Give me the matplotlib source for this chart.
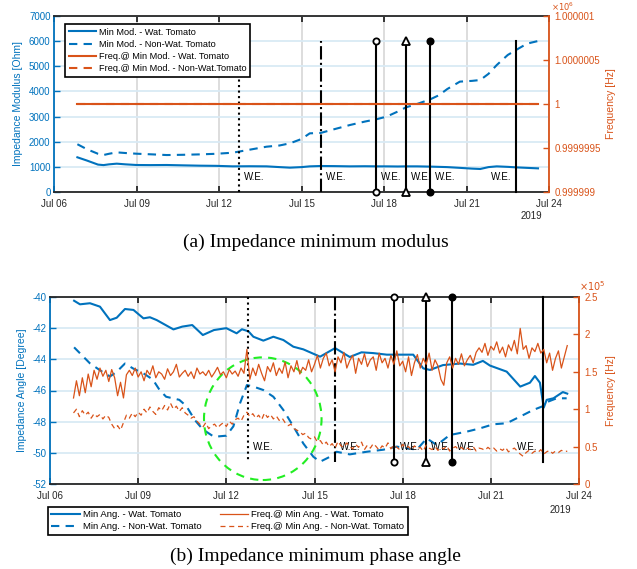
import matplotlib
matplotlib.use('Agg')
import matplotlib.pyplot as plt
import matplotlib.dates as mdates
from matplotlib.patches import Ellipse
from datetime import datetime
import numpy as np

plt.rcParams['font.family'] = ['Liberation Sans', 'DejaVu Sans']
plt.rcParams['axes.unicode_minus'] = False

BLUE = '#0072BD'
ORANGE = '#D95319'
DARK = '#262626'
start = mdates.date2num(datetime(2019, 7, 6))

# ---- (a) minimum modulus, days after Jul 06 ----
mod_days = [0.85, 1.2, 1.6, 1.8, 2.0, 2.28, 2.6, 3.0, 3.5, 4.1, 4.7, 5.3, 5.9,
            6.5, 7.1, 7.73, 8.2, 8.58, 9.0, 9.3, 9.7, 10.2, 10.76, 11.3, 11.75,
            12.1, 12.5, 12.8, 13.2, 13.67, 14.0, 14.3, 14.76, 15.2, 15.5, 15.8,
            16.1, 16.5, 16.8, 17.2, 17.6]
mod_wat = [1380, 1250, 1090, 1070, 1100, 1127, 1100, 1074, 1070, 1074, 1060,
           1047, 1040, 1020, 1025, 1020, 990, 968, 990, 1020, 1034, 1030, 1020,
           1025, 1020, 1020, 1015, 1020, 1020, 1010, 1000, 990, 960, 930, 915,
           990, 1020, 1000, 980, 960, 940]
mod_nonwat = [1900, 1700, 1520, 1471, 1520, 1577, 1550, 1523, 1500, 1470, 1480,
              1496, 1520, 1563, 1680, 1802, 1850, 1936, 2108, 2333, 2350, 2500,
              2664, 2800, 2900, 3000, 3200, 3367, 3500, 3680, 3850, 4095, 4390,
              4420, 4454, 4700, 5050, 5450, 5647, 5900, 6005]
fmod_days = [0.85, 17.6]
fmod_wat = [1e6, 1e6]
fmod_nonwat = [1e6, 1e6]

# ---- (b) minimum phase angle ----
ang_wat_days = [0.82, 1.02, 1.36, 1.7, 2.04, 2.27, 2.55, 2.84, 3.18, 3.4, 3.63,
                4.2, 4.5, 4.84, 5.2, 5.58, 6.0, 6.35, 6.53, 6.75, 6.92, 7.26,
                7.6, 7.94, 8.28, 8.62, 9.19, 9.7, 10.2, 10.6, 11.0, 11.46, 11.8,
                12.36, 12.7, 12.93, 13.37, 13.95, 14.4, 14.73, 14.97, 15.54,
                16.0, 16.33, 16.5, 16.67, 16.8, 16.9, 17.13, 17.45, 17.6]
ang_wat = [-40.24, -40.47, -40.4, -40.62, -41.48, -41.33, -40.77, -40.83,
           -41.37, -41.3, -41.48, -42.08, -41.9, -41.8, -42.44, -42.12, -42.0,
           -42.33, -42.07, -42.2, -42.55, -42.8, -42.55, -42.76, -43.19, -43.36,
           -43.83, -43.28, -43.85, -43.55, -43.6, -43.7, -43.7, -43.7, -44.58,
           -44.68, -44.37, -44.27, -44.35, -44.1, -44.4, -44.79, -45.75, -45.5,
           -45.07, -45.5, -47.1, -46.6, -46.5, -46.1, -46.2]
ang_nonwat_days = [0.82, 1.36, 1.7, 2.04, 2.27, 2.55, 2.84, 3.18, 3.5, 3.73,
                   3.95, 4.4, 4.64, 4.93, 5.2, 5.58, 6.0, 6.24, 6.47, 6.7, 6.92,
                   7.26, 7.6, 7.94, 8.28, 8.62, 8.96, 9.19, 9.53, 9.75, 10.2,
                   10.78, 11.34, 11.8, 12.14, 12.48, 12.82, 13.16, 13.6, 14.18,
                   14.63, 15.08, 15.54, 15.99, 16.44, 16.78, 16.9, 17.24, 17.58]
ang_nonwat = [-43.23, -44.26, -44.7, -45.1, -44.8, -44.27, -44.6, -44.9, -45.3,
              -45.97, -46.4, -46.6, -47.0, -47.9, -48.5, -48.97, -48.9, -48.3,
              -46.8, -45.65, -45.75, -45.97, -46.4, -47.25, -48.3, -49.4,
              -50.25, -50.57, -50.25, -49.93, -50.1, -49.93, -49.8, -49.6,
              -49.7, -49.8, -49.07, -49.5, -48.86, -48.64, -48.43, -48.17,
              -48.1, -47.68, -47.25, -47.0, -46.75, -46.5, -46.5]

# frequency at min angle, sampled every 0.1 day from day 0.8 (units of 1e5 Hz)
fang_days = 0.8 + 0.1 * np.arange(169)
fang_wat = [1.15, 1.38, 1.18, 1.42, 1.22, 1.47, 1.30, 1.52,
            1.40, 1.55, 1.44, 1.52, 1.37, 1.53, 1.42,
            1.18, 1.36, 1.15, 1.46, 1.52,
            1.45, 1.55, 1.43, 1.50, 1.38, 1.52, 1.46, 1.58, 1.42, 1.50,
            1.47, 1.40, 1.54, 1.45, 1.50, 1.60, 1.43, 1.48, 1.52, 1.44,
            1.50, 1.41, 1.55, 1.47, 1.50, 1.45, 1.52, 1.43, 1.49, 1.56,
            1.46, 1.50, 1.42, 1.53, 1.47, 1.51, 1.44, 1.55, 1.48,
            1.80,
            1.40, 1.55, 1.45, 1.60, 1.48, 1.38, 1.57, 1.50, 1.62, 1.45,
            1.55, 1.48, 1.63, 1.42, 1.58, 1.50, 1.65, 1.47, 1.56, 1.52, 1.66, 1.50,
            1.60, 1.72, 1.55, 1.68, 1.75, 1.58, 1.66, 1.50, 1.70, 1.62,
            1.76, 1.55, 1.65, 1.72, 1.48, 1.68, 1.60, 1.74, 1.57, 1.66,
            1.70, 1.52, 1.75, 1.62, 1.68, 1.55, 1.72, 1.60, 1.78, 1.58,
            1.64, 1.50, 1.70, 1.45, 1.62, 1.73, 1.55, 1.68, 1.60, 1.75,
            1.52, 1.66, 1.58, 1.40, 1.32, 1.62, 1.70, 1.55, 1.68, 1.60,
            1.74, 1.58, 1.66, 1.72, 1.62, 1.76,
            1.82, 1.76, 1.88, 1.72, 1.84, 1.79, 1.90, 1.75, 1.83, 1.70,
            1.86, 1.78, 1.92, 1.74, 2.08, 1.80, 1.85, 1.68, 1.82, 1.77,
            1.88, 1.75, 1.80,
            1.62, 1.75, 1.52, 1.68, 1.78, 1.55, 1.70, 1.85]
fang_nonwat = [0.95, 1.00, 0.90, 0.98, 0.92, 0.96, 0.88, 0.94,
               0.90, 0.93, 0.87, 0.92, 0.89,
               0.80, 0.74, 0.78, 0.72, 0.82,
               0.92, 0.88, 0.95, 0.90,
               0.96, 0.92, 1.00, 0.95, 1.03, 0.97, 0.93, 1.02, 0.98, 1.05,
               0.99, 1.08, 1.00, 1.04, 0.97, 1.02, 0.95,
               0.92, 0.88, 0.90, 0.84,
               0.80, 0.76, 0.82, 0.74, 0.78, 0.80, 0.75, 0.79, 0.82, 0.77,
               0.84, 0.80, 0.86,
               0.88, 0.84, 0.92, 0.96,
               0.90, 0.94, 0.88, 0.92, 0.86, 0.95, 0.89, 0.93, 0.87, 0.91,
               0.85, 0.88,
               0.82, 0.78, 0.80, 0.74, 0.72, 0.70, 0.66, 0.68, 0.62, 0.60,
               0.63, 0.56, 0.58,
               0.52, 0.56, 0.50, 0.54, 0.48, 0.57, 0.51, 0.49, 0.55, 0.50,
               0.47, 0.53, 0.49, 0.56, 0.46, 0.52, 0.48, 0.54, 0.50, 0.45,
               0.51, 0.48, 0.55, 0.47, 0.52, 0.49, 0.46, 0.53, 0.48, 0.50,
               0.45, 0.51, 0.47, 0.49, 0.44, 0.52, 0.48, 0.46, 0.50, 0.45,
               0.49, 0.47, 0.51, 0.44, 0.48, 0.50, 0.46, 0.49, 0.45, 0.48,
               0.46, 0.50, 0.44, 0.48, 0.47, 0.45, 0.49, 0.46, 0.48, 0.44,
               0.47, 0.45, 0.49, 0.43, 0.46, 0.48, 0.44, 0.40, 0.37, 0.42,
               0.45, 0.41, 0.44, 0.42, 0.46, 0.40, 0.43, 0.45, 0.41, 0.44,
               0.42, 0.45, 0.43, 0.44]

# events (watering etc.) and "W.E." labels
event_days = [6.74, 9.70, 11.72, 12.79, 13.67, 16.79]
event_styles = [(':', None, 'none'), ('-.', None, 'none'), ('-', 'o', 'white'),
                ('-', '^', 'white'), ('-', 'o', 'k'), ('-', None, 'none')]
we_days = [6.92, 9.88, 11.90, 12.97, 13.85, 15.90]

xticks = [0, 3, 6, 9, 12, 15, 18]


def d(v):
    return start + np.asarray(v, dtype=float)


fig = plt.figure(figsize=(6.37, 5.69), dpi=100)


def style(ax, ax2):
    ax.set_xlim(start, start + 18)
    ax.set_xticks(d(xticks))
    ax.xaxis.set_major_formatter(mdates.DateFormatter('%b %d'))
    ax.grid(axis='y', color='#d9eaf5', lw=1.3)
    ax.grid(axis='x', color='#dadada', lw=1.3)
    ax.set_axisbelow(True)
    for s in ['top', 'bottom']:
        ax.spines[s].set_color(DARK)
        ax.spines[s].set_linewidth(1.3)
        ax2.spines[s].set_visible(False)
    ax.spines['right'].set_visible(False)
    ax.spines['left'].set_color(BLUE)
    ax.spines['left'].set_linewidth(1.3)
    ax2.spines['left'].set_visible(False)
    ax2.spines['right'].set_color(ORANGE)
    ax2.spines['right'].set_linewidth(1.3)
    ax.tick_params(axis='x', direction='in', top=True, length=4, width=1.3,
                   color=DARK, labelcolor=DARK, labelsize=7, pad=5)
    ax.tick_params(axis='y', direction='in', length=4, width=1.0, color=BLUE,
                   labelcolor=BLUE, labelsize=7, pad=2.5)
    ax2.tick_params(axis='y', direction='in', length=4, width=1.0, color=ORANGE,
                    labelcolor=ORANGE, labelsize=7, pad=4)


def events(ax, ylo, yhi, ytxt):
    for x, (ls, mk, mfc) in zip(event_days, event_styles):
        ax.plot(d([x, x]), [ylo, yhi], color='k', ls=ls, lw=1.5, marker=mk,
                ms=4.5 if mk == 'o' else 5.5, mfc=mfc, mec='k', mew=1.3,
                clip_on=False, zorder=3)
    for x in we_days:
        ax.text(d(x), ytxt, 'W.E.', fontsize=7, ha='left', va='center', color='k')


# ---------------- (a) ----------------
ax = fig.add_axes([54 / 637, 1 - 192 / 569, 495 / 637, 176 / 569])
ax2 = ax.twinx()
style(ax, ax2)
l1, = ax.plot(d(mod_days), mod_wat, color=BLUE, lw=1.5)
l2, = ax.plot(d(mod_days), mod_nonwat, color=BLUE, lw=1.5, dashes=(4, 3))
events(ax, 0, 6000, 600)
ax.set_ylim(0, 7000)
ax.set_yticks(range(0, 7001, 1000))
ax.set_ylabel('Impedance Modulus [Ohm]', color=BLUE, fontsize=7.5, labelpad=4)
l3, = ax2.plot(d(fmod_days), fmod_wat, color=ORANGE, lw=1.5)
l4, = ax2.plot(d(fmod_days), fmod_nonwat, color=ORANGE, lw=1.5, dashes=(4, 3))
ax2.set_ylim(999999, 1000001)
ax2.set_yticks([999999, 999999.5, 1000000, 1000000.5, 1000001],
               ['0.999999', '0.9999995', '1', '1.0000005', '1.000001'])
ax2.set_ylabel('Frequency [Hz]', color=ORANGE, fontsize=7.5, labelpad=4)
leg = ax2.legend([l1, l2, l3, l4],
                 ['Min Mod. - Wat. Tomato', 'Min Mod. - Non-Wat. Tomato',
                  'Freq.@ Min Mod. - Wat. Tomato', 'Freq.@ Min Mod. - Non-Wat.Tomato'],
                 loc='upper left', bbox_to_anchor=(0.022, 0.955), borderaxespad=0,
                 fontsize=6.6, handlelength=3.0, labelspacing=0.35,
                 handletextpad=0.3, borderpad=0.4, fancybox=False, framealpha=1,
                 edgecolor='k')
leg.get_frame().set_linewidth(1.2)
fig.text(563 / 637, 1 - 7 / 569, r'$\times10^{6}$', color=ORANGE, fontsize=6,
         ha='center', va='center')
fig.text(531.7 / 637, 1 - 215.7 / 569, '2019', color=DARK, fontsize=7,
         ha='center', va='center')
fig.text(316 / 637, 1 - 242 / 569, '(a) Impedance minimum modulus',
         family='Liberation Serif', fontsize=14, ha='center', va='center')

# ---------------- (b) ----------------
bx = fig.add_axes([50 / 637, 1 - 484 / 569, 529 / 637, 187 / 569])
bx2 = bx.twinx()
style(bx, bx2)
m1, = bx.plot(d(ang_wat_days), ang_wat, color=BLUE, lw=1.5)
m2, = bx.plot(d(ang_nonwat_days), ang_nonwat, color=BLUE, lw=1.5, dashes=(4, 3))
events(bx, -40, -50.6, -49.6)
bx.add_patch(Ellipse((start + 7.24, -47.81), 4.0, 7.87, fill=False,
                     edgecolor='#22ee22', lw=1.5, ls=(0, (4, 3)), zorder=4))
bx.set_ylim(-52, -40)
bx.set_yticks(range(-52, -39, 2))
bx.set_ylabel('Impedance Angle [Degree]', color=BLUE, fontsize=7.5, labelpad=4)
m3, = bx2.plot(d(fang_days), np.array(fang_wat) * 1e5, color=ORANGE, lw=0.9)
m4, = bx2.plot(d(fang_days), np.array(fang_nonwat) * 1e5, color=ORANGE, lw=0.9,
               dashes=(4, 3))
bx2.set_ylim(0, 2.5e5)
bx2.set_yticks([0, 0.5e5, 1e5, 1.5e5, 2e5, 2.5e5],
               ['0', '0.5', '1', '1.5', '2', '2.5'])
bx2.set_ylabel('Frequency [Hz]', color=ORANGE, fontsize=7.5, labelpad=6)
leg2 = fig.legend([m1, m2, m3, m4],
                  ['Min Ang. - Wat. Tomato', 'Min Ang. - Non-Wat. Tomato',
                   'Freq.@ Min Ang. - Wat. Tomato', 'Freq.@ Min Ang. - Non-Wat. Tomato'],
                  loc='upper left', bbox_to_anchor=(47.7 / 637, 1 - 506.7 / 569),
                  borderaxespad=0, ncol=2, fontsize=6.8, handlelength=3.0,
                  labelspacing=0.3, handletextpad=0.3, borderpad=0.4,
                  columnspacing=2.0, fancybox=False, framealpha=1, edgecolor='k')
leg2.get_frame().set_linewidth(1.2)
fig.text(592 / 637, 1 - 286 / 569, r'$\times10^{5}$', color=ORANGE, fontsize=7,
         ha='center', va='center')
fig.text(560 / 637, 1 - 510 / 569, '2019', color=DARK, fontsize=7,
         ha='center', va='center')
fig.text(315 / 637, 1 - 556.7 / 569, '(b) Impedance minimum phase angle',
         family='Liberation Serif', fontsize=14, ha='center', va='center')

fig.savefig('out.png', dpi=100)
